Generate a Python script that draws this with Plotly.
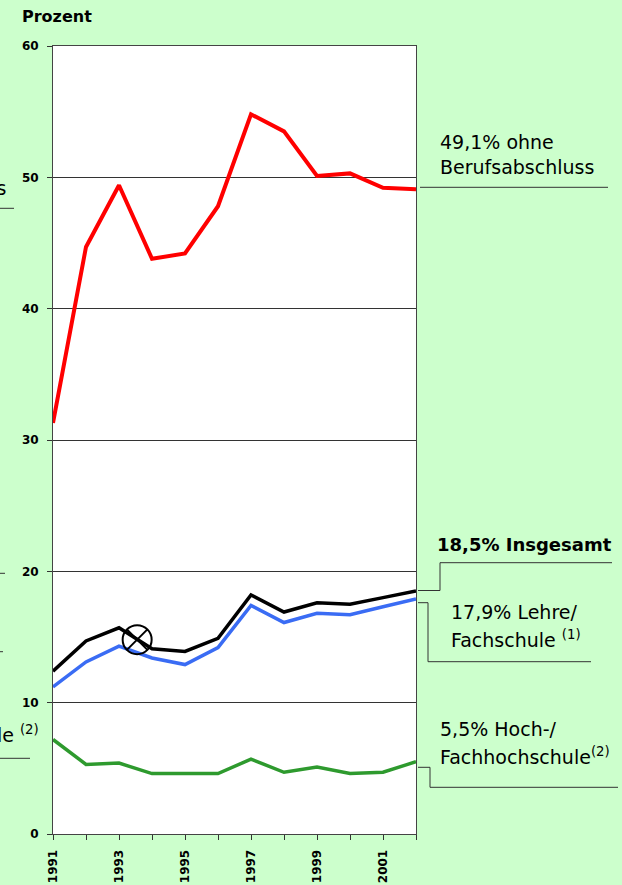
import plotly.graph_objects as go

# ---------------- data ----------------
years = list(range(1991, 2003))
ohne_abschluss = [31.3, 44.7, 49.4, 43.8, 44.2, 47.8, 54.8, 53.5, 50.1, 50.3, 49.2, 49.1]
insgesamt = [12.4, 14.7, 15.7, 14.1, 13.9, 14.9, 18.2, 16.9, 17.6, 17.5, 18.0, 18.5]
lehre_fachschule = [11.2, 13.1, 14.3, 13.4, 12.9, 14.2, 17.4, 16.1, 16.8, 16.7, 17.3, 17.9]
hochschule = [7.2, 5.3, 5.4, 4.6, 4.6, 4.6, 5.7, 4.7, 5.1, 4.6, 4.7, 5.5]
x_tick_years = [1991, 1993, 1995, 1997, 1999, 2001]
x_tick_labels = ["1991", "1993", "1995", "1997", "1999", "2001"]
y_ticks = [0, 10, 20, 30, 40, 50, 60]
y_tick_labels = ["0", "10", "20", "30", "40", "50", "60"]
marker_year = [1993.55]
marker_value = [14.8]

# ---------------- geometry helpers (pixels -> paper) ----------------
W, H = 622, 885
L, R, T, B = 53, 416, 46, 834


def px(x):
    return (x - L) / (R - L)


def py(y):
    return (B - y) / (B - T)


fig = go.Figure()

fig.add_trace(go.Scatter(x=years, y=ohne_abschluss, mode="lines",
                         line=dict(color="#FF0000", width=4), hoverinfo="skip"))
fig.add_trace(go.Scatter(x=years, y=insgesamt, mode="lines",
                         line=dict(color="#000000", width=3.5), hoverinfo="skip"))
fig.add_trace(go.Scatter(x=years, y=lehre_fachschule, mode="lines",
                         line=dict(color="#3A6CF4", width=3.5), hoverinfo="skip"))
fig.add_trace(go.Scatter(x=years, y=hochschule, mode="lines",
                         line=dict(color="#2E9A2E", width=3.5), hoverinfo="skip"))
fig.add_trace(go.Scatter(x=marker_year, y=marker_value, mode="markers",
                         marker=dict(symbol="circle-x-open", size=29,
                                     color="#000000", line=dict(color="#000000", width=2)),
                         hoverinfo="skip"))

TXT = "DejaVu Sans"
annotations = []


def label(text, x, y, size=19, bold=False, xanchor="left"):
    annotations.append(dict(
        text=text, x=px(x), y=py(y), xref="paper", yref="paper",
        xanchor=xanchor, yanchor="middle", showarrow=False,
        font=dict(family=TXT, size=size, color="#000000",
                  weight="bold" if bold else "normal")))


label("Prozent", 20, 17, size=16, bold=True)
label("49,1% ohne", 438, 142)
label("Berufsabschluss", 438, 167)
label("18,5% Insgesamt", 435, 544, size=18, bold=True)
label("17,9% Lehre/", 449, 612)
label("Fachschule <sup>(1)</sup>", 449, 639)
label("5,5% Hoch-/", 438, 729)
label("Fachhochschule<sup>(2)</sup>", 438, 756)
# clipped remnants on the left edge
label("Berufsabschluss", 8, 188, xanchor="right")
label("Fachhochschule <sup>(2)</sup>", 41, 734, xanchor="right")

shapes = []


def seg(x0, y0, x1, y1, color="#333333"):
    shapes.append(dict(type="line", xref="paper", yref="paper",
                       x0=px(x0), y0=py(y0), x1=px(x1), y1=py(y1),
                       line=dict(color=color, width=1)))


seg(420, 187.3, 608, 187.3)
seg(418, 590.5, 440, 590.5)
seg(440, 590.5, 440, 562.7)
seg(440, 562.7, 612, 562.7)
seg(418, 602.7, 428, 602.7)
seg(428, 602.7, 428, 661.7)
seg(428, 661.7, 591, 661.7)
seg(418, 767.3, 430, 767.3)
seg(430, 767.3, 430, 787.3)
seg(430, 787.3, 618, 787.3)
seg(-2, 208.3, 14, 208.3)
seg(-2, 573.3, 5, 573.3)
seg(-2, 651.7, 3, 651.7)
seg(-2, 758.3, 30, 758.3)

fig.update_layout(
    width=W, height=H, autosize=False,
    margin=dict(l=L, r=W - R, t=T, b=H - B, pad=0, autoexpand=False),
    paper_bgcolor="#CCFFCC",
    plot_bgcolor="#FFFFFF",
    showlegend=False,
    annotations=annotations,
    shapes=shapes,
    xaxis=dict(
        range=[1991, 2002], tickmode="array", tickvals=x_tick_years, ticktext=x_tick_labels,
        tickangle=-90, ticks="outside", ticklen=5, tickcolor="#333333",
        minor=dict(tick0=1991, dtick=1, ticks="outside", ticklen=5, tickcolor="#333333",
                   showgrid=False),
        tickfont=dict(family=TXT, size=12, color="#000000", weight="bold"),
        showgrid=False, zeroline=False, showline=True, linecolor="#444444",
        linewidth=1, mirror=True, ticklabelstandoff=5, fixedrange=True,
        automargin=False,
    ),
    yaxis=dict(
        range=[0, 60], tickmode="array", tickvals=y_ticks, ticktext=y_tick_labels,
        ticks="outside", ticklen=5, tickcolor="#333333",
        tickfont=dict(family=TXT, size=12, color="#000000", weight="bold"),
        showgrid=True, gridcolor="#333333", gridwidth=1, zeroline=False,
        showline=True, linecolor="#444444", linewidth=1, mirror=True,
        ticklabelstandoff=6, fixedrange=True, automargin=False,
    ),
)

fig.write_html(
    "out.html",
    config={"displayModeBar": False, "responsive": False},
    post_script="document.body.style.margin='0';document.body.style.padding='0';"
                "document.body.style.overflow='hidden';",
)
